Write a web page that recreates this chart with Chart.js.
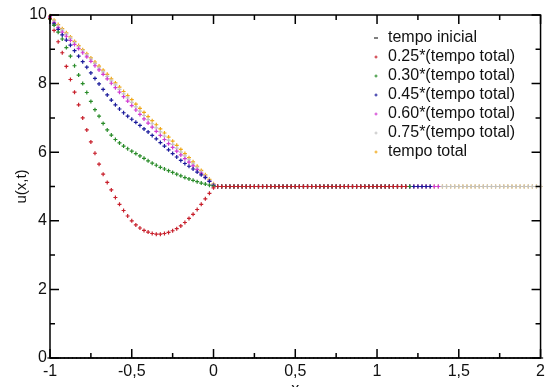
<!DOCTYPE html>
<html>
<head>
<meta charset="utf-8">
<script src="https://cdn.jsdelivr.net/npm/chart.js@4"></script>
<style>
  body { margin: 0; background: #fff; }
  canvas { display: block; }
</style>
</head>
<body>
<canvas id="chart" width="549" height="387"></canvas>
<script>
// x grid shared by every series
var xs = [
    -1, -0.975, -0.95, -0.925, -0.9, -0.875, -0.85, -0.825, -0.8, -0.775,
    -0.75, -0.725, -0.7, -0.675, -0.65, -0.625, -0.6, -0.575, -0.55, -0.525,
    -0.5, -0.475, -0.45, -0.425, -0.4, -0.375, -0.35, -0.325, -0.3, -0.275,
    -0.25, -0.225, -0.2, -0.175, -0.15, -0.125, -0.1, -0.075, -0.05, -0.025,
    0, 0.025, 0.05, 0.075, 0.1, 0.125, 0.15, 0.175, 0.2, 0.225,
    0.25, 0.275, 0.3, 0.325, 0.35, 0.375, 0.4, 0.425, 0.45, 0.475,
    0.5, 0.525, 0.55, 0.575, 0.6, 0.625, 0.65, 0.675, 0.7, 0.725,
    0.75, 0.775, 0.8, 0.825, 0.85, 0.875, 0.9, 0.925, 0.95, 0.975,
    1, 1.025, 1.05, 1.075, 1.1, 1.125, 1.15, 1.175, 1.2, 1.225,
    1.25, 1.275, 1.3, 1.325, 1.35, 1.375, 1.4, 1.425, 1.45, 1.475,
    1.5, 1.525, 1.55, 1.575, 1.6, 1.625, 1.65, 1.675, 1.7, 1.725,
    1.75, 1.775, 1.8, 1.825, 1.85, 1.875, 1.9, 1.925, 1.95, 1.975,
    2
]

var tempoInicial = [
    0, 0, 0, 0, 0, 0, 0, 0, 0, 0, 0, 0, 0, 0, 0, 0, 0, 0, 0, 0,
    0, 0, 0, 0, 0, 0, 0, 0, 0, 0, 0, 0, 0, 0, 0, 0, 0, 0, 0, 0,
    0, 0, 0, 0, 0, 0, 0, 0, 0, 0, 0, 0, 0, 0, 0, 0, 0, 0, 0, 0,
    0, 0, 0, 0, 0, 0, 0, 0, 0, 0, 0, 0, 0, 0, 0, 0, 0, 0, 0, 0,
    0, 0, 0, 0, 0, 0, 0, 0, 0, 0, 0, 0, 0, 0, 0, 0, 0, 0, 0, 0,
    0, 0, 0, 0, 0, 0, 0, 0, 0, 0, 0, 0, 0, 0, 0, 0, 0, 0, 0, 0,
    0
]

var t025 = [
    9.90, 9.55, 9.22, 8.90, 8.50, 8.12, 7.75, 7.38, 7.00, 6.65,
    6.30, 5.97, 5.65, 5.36, 5.12, 4.90, 4.68, 4.48, 4.30, 4.14,
    4.00, 3.88, 3.79, 3.72, 3.67, 3.63, 3.61, 3.61, 3.63, 3.66,
    3.71, 3.77, 3.85, 3.95, 4.07, 4.19, 4.33, 4.48, 4.64, 4.80,
    4.96, 5, 5, 5, 5, 5, 5, 5, 5, 5,
    5, 5, 5, 5, 5, 5, 5, 5, 5, 5,
    5, 5, 5, 5, 5, 5, 5, 5, 5, 5,
    5, 5, 5, 5, 5, 5, 5, 5, 5, 5,
    5, 5, 5, 5, 5, 5, 5, 5
]

var t030 = [
    9.88, 9.70, 9.50, 9.30, 9.05, 8.80, 8.52, 8.25, 8.00, 7.74,
    7.48, 7.24, 7.05, 6.84, 6.65, 6.50, 6.37, 6.27, 6.18, 6.10,
    6.03, 5.96, 5.89, 5.82, 5.75, 5.68, 5.62, 5.56, 5.51, 5.46,
    5.41, 5.36, 5.31, 5.26, 5.22, 5.18, 5.14, 5.10, 5.07, 5.04,
    5.01, 5, 5, 5, 5, 5, 5, 5, 5, 5,
    5, 5, 5, 5, 5, 5, 5, 5, 5, 5,
    5, 5, 5, 5, 5, 5, 5, 5, 5, 5,
    5, 5, 5, 5, 5, 5, 5, 5, 5, 5,
    5, 5, 5, 5, 5, 5, 5, 5, 5
]

var t045 = [
    9.90, 9.74, 9.58, 9.42, 9.27, 9.12, 8.96, 8.80, 8.64, 8.48,
    8.31, 8.15, 7.99, 7.83, 7.67, 7.52, 7.38, 7.26, 7.15, 7.05,
    6.96, 6.87, 6.78, 6.68, 6.59, 6.49, 6.39, 6.28, 6.18, 6.07,
    5.96, 5.86, 5.76, 5.67, 5.59, 5.51, 5.42, 5.34, 5.26, 5.15,
    5.03, 5, 5, 5, 5, 5, 5, 5, 5, 5,
    5, 5, 5, 5, 5, 5, 5, 5, 5, 5,
    5, 5, 5, 5, 5, 5, 5, 5, 5, 5,
    5, 5, 5, 5, 5, 5, 5, 5, 5, 5,
    5, 5, 5, 5, 5, 5, 5, 5, 5, 5,
    5, 5, 5, 5
]

var t060 = [
    9.95, 9.78, 9.63, 9.50, 9.38, 9.26, 9.14, 9.02, 8.90, 8.78,
    8.65, 8.52, 8.40, 8.27, 8.14, 8.01, 7.88, 7.75, 7.62, 7.49,
    7.36, 7.23, 7.10, 6.97, 6.85, 6.73, 6.61, 6.49, 6.37, 6.25,
    6.14, 6.03, 5.92, 5.81, 5.71, 5.60, 5.49, 5.38, 5.27, 5.15,
    5.04, 5, 5, 5, 5, 5, 5, 5, 5, 5,
    5, 5, 5, 5, 5, 5, 5, 5, 5, 5,
    5, 5, 5, 5, 5, 5, 5, 5, 5, 5,
    5, 5, 5, 5, 5, 5, 5, 5, 5, 5,
    5, 5, 5, 5, 5, 5, 5, 5, 5, 5,
    5, 5, 5, 5, 5, 5
]

var t075 = [
    9.97, 9.82, 9.68, 9.56, 9.44, 9.32, 9.19, 9.07, 8.95, 8.83,
    8.71, 8.58, 8.46, 8.34, 8.21, 8.08, 7.96, 7.83, 7.70, 7.58,
    7.45, 7.32, 7.20, 7.07, 6.95, 6.83, 6.71, 6.59, 6.47, 6.35,
    6.23, 6.12, 6.00, 5.89, 5.78, 5.66, 5.54, 5.42, 5.30, 5.18,
    5.06, 5, 5, 5, 5, 5, 5, 5, 5, 5,
    5, 5, 5, 5, 5, 5, 5, 5, 5, 5,
    5, 5, 5, 5, 5, 5, 5, 5, 5, 5,
    5, 5, 5, 5, 5, 5, 5, 5, 5, 5,
    5, 5, 5, 5, 5, 5, 5, 5, 5, 5,
    5, 5, 5, 5, 5, 5, 5, 5, 5, 5,
    5, 5, 5, 5, 5, 5, 5, 5, 5, 5,
    5, 5, 5, 5, 5, 5, 5, 5, 5, 5,
    5
]

var tempoTotal = [
    9.98, 9.85, 9.72, 9.60, 9.48, 9.36, 9.23, 9.11, 8.99, 8.87,
    8.75, 8.63, 8.51, 8.39, 8.27, 8.14, 8.02, 7.90, 7.77, 7.65,
    7.53, 7.40, 7.28, 7.16, 7.04, 6.92, 6.80, 6.68, 6.56, 6.44,
    6.32, 6.20, 6.08, 5.96, 5.84, 5.72, 5.59, 5.47, 5.34, 5.21,
    5.08, 5, 5, 5, 5, 5, 5, 5, 5, 5,
    5, 5, 5, 5, 5, 5, 5, 5, 5, 5,
    5, 5, 5, 5, 5, 5, 5, 5, 5, 5,
    5, 5, 5, 5, 5, 5, 5, 5, 5, 5,
    5, 5, 5, 5, 5, 5, 5, 5, 5, 5,
    5, 5, 5, 5, 5, 5, 5, 5, 5, 5,
    5, 5, 5, 5, 5, 5, 5, 5, 5, 5,
    5, 5, 5, 5, 5, 5, 5, 5, 5, 5,
    5
]

var seriesLabels = [
    "tempo inicial",
    "0.25*(tempo total)",
    "0.30*(tempo total)",
    "0.45*(tempo total)",
    "0.60*(tempo total)",
    "0.75*(tempo total)",
    "tempo total"
]
var seriesValues = [tempoInicial, t025, t030, t045, t060, t075, tempoTotal]
var seriesColors = ["#000000", "#c8202c", "#2a8c2a", "#1c1c9c", "#d23cd2", "#c4c4c4", "#f0a818"]

var xTicks = [-1, -0.5, 0, 0.5, 1, 1.5, 2]
var yTicks = [0, 2, 4, 6, 8, 10]

const FONT = '"Liberation Sans", Arial, Helvetica, sans-serif'

// pair each y list with the shared x grid
function toPoints(ys) {
    return ys.map(function (v, i) { return { x: xs[i], y: v } })
}

const datasets = seriesLabels.map(function (label, i) {
    return {
        label: label,
        data: toPoints(seriesValues[i]),
        borderColor: seriesColors[i],
        backgroundColor: seriesColors[i],
        pointStyle: i === 0 ? "line" : "cross",
        pointRadius: i === 0 ? 2.6 : 2,
        borderWidth: 1.2,
        clip: false
    }
})

// legend drawn inside the plot, top right
const insideLegend = {
    id: "insideLegend",
    afterDraw(chart) {
        const ctx = chart.ctx
        ctx.save()
        ctx.font = "16px " + FONT
        ctx.textBaseline = "middle"
        ctx.textAlign = "left"
        chart.data.datasets.forEach(function (ds, i) {
            var y = 38 + i * 19
            ctx.strokeStyle = ds.borderColor
            ctx.lineWidth = 1
            ctx.beginPath()
            if (ds.pointStyle === "line") {
                ctx.moveTo(374, y); ctx.lineTo(378, y)
            } else {
                ctx.moveTo(374.5, y); ctx.lineTo(377.5, y)
                ctx.moveTo(376, y - 1.5); ctx.lineTo(376, y + 1.5)
            }
            ctx.stroke()
            ctx.fillStyle = "#111"
            ctx.fillText(ds.label, 388, y)
        })
        ctx.restore()
    }
}

// frame with inward major and minor ticks on all four sides
const frameTicks = {
    id: "frameTicks",
    afterDraw(chart) {
        const ctx = chart.ctx
        const a = chart.chartArea
        const sx = chart.scales.x
        const sy = chart.scales.y
        ctx.save()
        ctx.strokeStyle = "#000"
        ctx.lineWidth = 1.5
        ctx.strokeRect(a.left, a.top, a.right - a.left, a.bottom - a.top)
        ctx.beginPath()
        xTicks.forEach(function (v, i) {
            var px = sx.getPixelForValue(v)
            ctx.moveTo(px, a.bottom); ctx.lineTo(px, a.bottom - 9)
            ctx.moveTo(px, a.top); ctx.lineTo(px, a.top + 9)
            if (i < xTicks.length - 1) {
                var mx = sx.getPixelForValue((v + xTicks[i + 1]) / 2)
                ctx.moveTo(mx, a.bottom); ctx.lineTo(mx, a.bottom - 5)
                ctx.moveTo(mx, a.top); ctx.lineTo(mx, a.top + 5)
            }
        })
        yTicks.forEach(function (v, i) {
            var py = sy.getPixelForValue(v)
            ctx.moveTo(a.left, py); ctx.lineTo(a.left + 9, py)
            ctx.moveTo(a.right, py); ctx.lineTo(a.right - 9, py)
            if (i < yTicks.length - 1) {
                var my = sy.getPixelForValue((v + yTicks[i + 1]) / 2)
                ctx.moveTo(a.left, my); ctx.lineTo(a.left + 5, my)
                ctx.moveTo(a.right, my); ctx.lineTo(a.right - 5, my)
            }
        })
        ctx.stroke()
        ctx.restore()
    }
}

const config = {
    type: "scatter",
    data: { datasets: datasets },
    options: {
        responsive: false,
        animation: false,
        events: [],
        layout: { padding: { top: 15, right: 5, left: 0, bottom: 0 } },
        plugins: {
            legend: { display: false },
            tooltip: { enabled: false }
        },
        scales: {
            x: {
                type: "linear",
                min: -1,
                max: 2,
                afterFit: function (s) { s.height = 29 },
                afterBuildTicks: function (s) {
                    s.ticks = xTicks.map(function (v) { return { value: v } })
                },
                grid: { display: false, drawTicks: false, tickLength: 0 },
                border: { display: false },
                ticks: {
                    padding: 4,
                    maxRotation: 0,
                    color: "#111",
                    font: { family: FONT, size: 16 },
                    callback: function (v) { return String(v).replace(".", ",") }
                },
                title: {
                    display: true,
                    text: "x",
                    color: "#111",
                    font: { family: FONT, size: 16 },
                    padding: { top: 0, bottom: -12 }
                }
            },
            y: {
                type: "linear",
                min: 0,
                max: 10,
                afterFit: function (s) { s.width = 50 },
                afterBuildTicks: function (s) {
                    s.ticks = yTicks.map(function (v) { return { value: v } })
                },
                grid: { display: false, drawTicks: false, tickLength: 0 },
                border: { display: false },
                ticks: {
                    padding: 3,
                    color: "#111",
                    font: { family: FONT, size: 16 }
                },
                title: {
                    display: true,
                    text: "u(x,t)",
                    color: "#111",
                    font: { family: FONT, size: 15 },
                    padding: { top: 13, bottom: 0 }
                }
            }
        }
    },
    plugins: [frameTicks, insideLegend]
}

var chart = new Chart(document.getElementById("chart"), config)
</script>
</body>
</html>
